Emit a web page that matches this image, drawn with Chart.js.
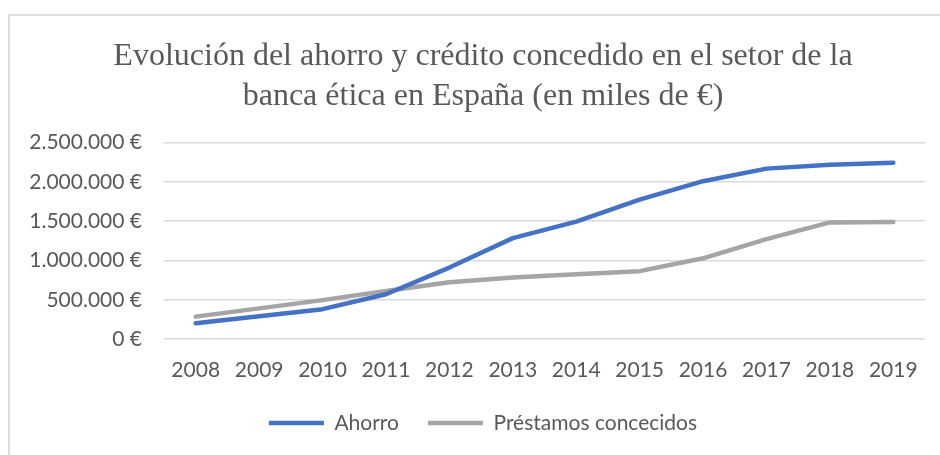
<!DOCTYPE html>
<html>
<head>
<meta charset="utf-8">
<script src="https://cdn.jsdelivr.net/npm/chart.js@4/dist/chart.umd.min.js"></script>
<style>
  html, body { margin: 0; padding: 0; background: #fff; overflow: hidden; width: 940px; height: 455px; }
  #frame { position: absolute; left: 8px; top: 14px; width: 960px; height: 460px; border: 2px solid #dedede; box-sizing: border-box; }
  #wrap { position: absolute; left: 10px; top: 16px; width: 946px; height: 440px; }
</style>
</head>
<body>
<div id="frame"></div>
<div id="wrap"><canvas id="c" width="946" height="440"></canvas></div>
<script>
const titleLines = ['Evolución del ahorro y crédito concedido en el setor de la', 'banca ética en España (en miles de €)'];
const years = ['2008', '2009', '2010', '2011', '2012', '2013', '2014', '2015', '2016', '2017', '2018', '2019'];
const ahorro = [200000, 290000, 380000, 570000, 910000, 1285000, 1495000, 1775000, 2010000, 2170000, 2220000, 2245000];
const prestamos = [285000, 390000, 495000, 612000, 722000, 784000, 826000, 864000, 1028000, 1272000, 1485000, 1490000];
const seriesNames = ['Ahorro', 'Préstamos concecidos'];
const yMin = 0, yMax = 2500000, yStep = 500000;

const txt = '#595959';
const fmt = v => String(v).replace(/\B(?=(\d{3})+(?!\d))/g, '.') + ' €';

new Chart(document.getElementById('c'), {
  type: 'line',
  data: {
    labels: years,
    datasets: [
      { label: seriesNames[0], data: ahorro, borderColor: '#4472C4', backgroundColor: '#4472C4', borderWidth: 4.5, pointRadius: 0, borderCapStyle: 'round', borderJoinStyle: 'round', tension: 0 },
      { label: seriesNames[1], data: prestamos, borderColor: '#A5A5A5', backgroundColor: '#A5A5A5', borderWidth: 4.5, pointRadius: 0, borderCapStyle: 'round', borderJoinStyle: 'round', tension: 0 }
    ]
  },
  options: {
    responsive: false,
    animation: false,
    layout: { padding: { left: 0, right: 0, top: 0, bottom: 12.5 } },
    plugins: {
      title: {
        display: true,
        text: titleLines,
        color: txt,
        font: { family: '"Liberation Serif", "Times New Roman", serif', size: 32, weight: 'normal', lineHeight: 1.23 },
        padding: { top: 21.3, bottom: 26.7 }
      },
      legend: {
        position: 'bottom',
        labels: {
          usePointStyle: true,
          pointStyle: 'line',
          pointStyleWidth: 55,
          color: txt,
          font: { family: 'Lato, sans-serif', size: 21 },
          padding: 29
        }
      },
      tooltip: { enabled: false }
    },
    scales: {
      x: {
        offset: true,
        grid: { display: false, drawTicks: false },
        border: { display: false },
        ticks: { color: txt, font: { family: 'Lato, sans-serif', size: 21 }, padding: 19, maxRotation: 0, autoSkip: false },
        afterFit: s => { s.height = 44.5; }
      },
      y: {
        min: yMin, max: yMax,
        grid: { color: '#d9d9d9', lineWidth: 1.5, drawTicks: false },
        border: { display: false },
        ticks: { stepSize: yStep, color: txt, font: { family: 'Lato, sans-serif', size: 21 }, padding: 22, callback: v => fmt(v) },
        afterFit: s => { s.width = 154; }
      },
      yRight: {
        position: 'right',
        display: true,
        grid: { display: false, drawTicks: false },
        border: { display: false },
        ticks: { display: false },
        afterFit: s => { s.width = 31; }
      }
    }
  }
});
</script>
</body>
</html>
